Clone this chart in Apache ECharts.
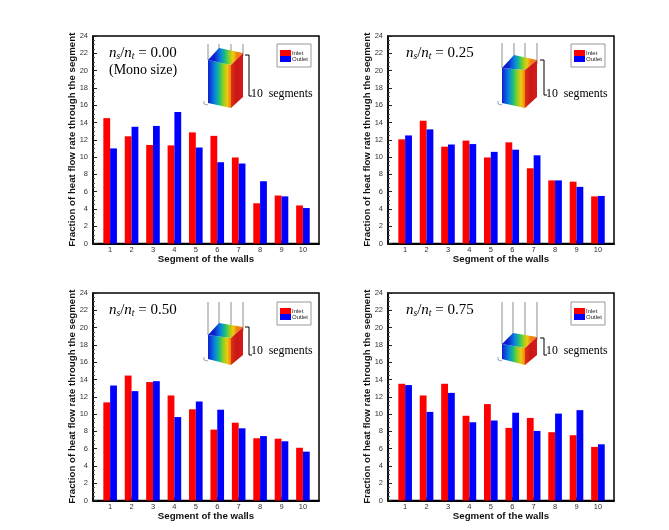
<!DOCTYPE html>
<html>
<head>
<meta charset="utf-8">
<style>html,body{margin:0;padding:0;background:#fff}#c{width:669px;height:530px}</style>
<script src="https://cdn.jsdelivr.net/npm/echarts@6/dist/echarts.min.js"></script>
</head>
<body>
<div id="c"></div>
<script>
const segments = [1,2,3,4,5,6,7,8,9,10];
const yTicks = [0,2,4,6,8,10,12,14,16,18,20,22,24];
const ratioLabels = ['0.00','0.25','0.50','0.75'];
const inlet000  = [14.5,12.4,11.4,11.35,12.85,12.45,9.95,4.65,5.55,4.4];
const outlet000 = [11.0,13.5,13.6,15.2,11.1,9.4,9.25,7.2,5.45,4.1];
const inlet025  = [12.05,14.2,11.2,11.9,9.95,11.7,8.7,7.3,7.15,5.45];
const outlet025 = [12.5,13.2,11.45,11.5,10.6,10.85,10.2,7.3,6.55,5.5];
const inlet050  = [11.35,14.45,13.7,12.15,10.55,8.2,9.0,7.2,7.15,6.1];
const outlet050 = [13.3,12.65,13.8,9.65,11.45,10.5,8.35,7.45,6.85,5.65];
const inlet075  = [13.5,12.15,13.5,9.8,11.15,8.4,9.55,7.9,7.55,6.2];
const outlet075 = [13.35,10.25,12.45,9.05,9.25,10.15,8.05,10.05,10.45,6.5];
const inlets = [inlet000,inlet025,inlet050,inlet075];
const outlets = [outlet000,outlet025,outlet050,outlet075];

const panels = [
  {l:93, t:36, lx:277, ly:44, lh:25, tx:109, ty:45,
   b:{lt:[208,60],bk:[219,48],rt:[243,53],ft:[231,65],lb:[208,103],fb:[231,108],rb:[243,97]}, lineTop:44, br:[245,249,55,96], sx:251, sy:94},
  {l:388,t:36, lx:571, ly:44, lh:25, tx:406, ty:45,
   b:{lt:[502,68],bk:[514,55],rt:[537,60],ft:[525,70],lb:[502,103],fb:[525,108],rb:[537,97]}, lineTop:43, br:[540,544,60,95], sx:546, sy:94},
  {l:93, t:293,lx:277, ly:302,lh:23, tx:109, ty:302,
   b:{lt:[208,335],bk:[219,323],rt:[243,327],ft:[231,338],lb:[208,359],fb:[231,365],rb:[243,355]}, lineTop:302, br:[245,249,327,355], sx:251, sy:351},
  {l:388,t:293,lx:571, ly:302,lh:23, tx:406, ty:302,
   b:{lt:[502,344],bk:[513,333],rt:[537,337],ft:[525,348],lb:[502,359],fb:[525,365],rb:[537,355]}, lineTop:302, br:[540,544,338,355], sx:546, sy:351}
];
const GW = 226, GH = 207.5;
const SANS = '"Liberation Sans",Arial,sans-serif';
const SERIF = '"Liberation Serif","Times New Roman",serif';

const rainbow = (x0,x1) => ({type:'linear',x:x0,y:0,x2:x1,y2:0,global:true,colorStops:[
  {offset:0,color:'#0a20d0'},{offset:.28,color:'#0a80e0'},{offset:.48,color:'#18c080'},
  {offset:.66,color:'#8fd020'},{offset:.84,color:'#f0c810'},{offset:1,color:'#f08010'}]});
const redFace = (x0,x1) => ({type:'linear',x:x0,y:0,x2:x1,y2:0,global:true,colorStops:[
  {offset:0,color:'#e03010'},{offset:.45,color:'#c81818'},{offset:1,color:'#d81818'}]});

function poly(points, fill){ return {type:'polygon',silent:true,shape:{points},style:{fill}}; }
function line(x1,y1,x2,y2,stroke,lineWidth){ return {type:'line',silent:true,shape:{x1,y1,x2,y2},style:{stroke,lineWidth}}; }

const grids=[],xAxes=[],yAxes=[],series=[],legends=[],titles=[],graphics=[];
panels.forEach((p,i)=>{
  grids.push({left:p.l,top:p.t,width:GW,height:GH,show:true,borderColor:'#000',borderWidth:1.5,backgroundColor:'#fff'});
  xAxes.push({type:'value',gridIndex:i,min:0.2,max:10.75,name:'Segment of the walls',nameLocation:'middle',nameGap:11,nameMoveOverlap:false,
    nameTextStyle:{fontFamily:SANS,fontWeight:'bold',fontSize:9.7,color:'#111'},
    splitLine:{show:false},
    axisLine:{show:true,onZero:false,lineStyle:{color:'#000',width:2}},
    axisTick:{show:true,inside:true,length:3,customValues:segments,lineStyle:{color:'#222',width:1}},
    axisLabel:{show:true,customValues:segments,fontFamily:SANS,fontSize:7.5,color:'#333',margin:2}});
  yAxes.push({type:'value',gridIndex:i,min:0,max:24,interval:2,name:'Fraction of heat flow rate through the segment',
    nameLocation:'middle',nameGap:16,nameMoveOverlap:false,
    nameTextStyle:{fontFamily:SANS,fontWeight:'bold',fontSize:9.7,color:'#111'},
    splitLine:{show:false},
    axisLine:{show:true,lineStyle:{color:'#000',width:1.5}},
    axisTick:{show:true,inside:true,length:4,lineStyle:{color:'#222',width:1}},
    minorTick:{show:true,splitNumber:4,length:2,lineStyle:{color:'#555',width:1}},
    axisLabel:{fontFamily:SANS,fontSize:7.5,color:'#333',margin:5,customValues:yTicks}});
  const pair = (name,color,vals)=>({type:'bar',name,xAxisIndex:i,yAxisIndex:i,barWidth:6.8,barGap:0,
    itemStyle:{color},data:segments.map((s,k)=>[s,vals[k]]),silent:true,animation:false});
  series.push(pair('Inlet','#ff0000',inlets[i]),pair('Outlet','#0000ff',outlets[i]));
  legends.push({left:p.lx,top:p.ly,width:35,height:p.lh,orient:'vertical',padding:[6,3,5,3],itemGap:0,itemWidth:11,itemHeight:6,
    borderColor:'#999',borderWidth:1,backgroundColor:'#fff',selectedMode:false,icon:'rect',
    data:['Inlet','Outlet'],textStyle:{fontFamily:SANS,fontSize:6,color:'#222',padding:[0,0,0,-4]}});
  const w='normal';
  const rich={i:{fontFamily:SERIF,fontStyle:'italic',fontWeight:w,fontSize:15,color:'#000'},
    s:{fontFamily:SERIF,fontStyle:'italic',fontWeight:w,fontSize:9.5,color:'#000',verticalAlign:'bottom',padding:[6,0,0,0]},
    r:{fontFamily:SERIF,fontWeight:w,fontSize:15,color:'#000'}};
  titles.push({left:p.tx,top:p.ty,padding:0,text:`{i|n}{s|s}{r|/}{i|n}{s|t}{r| = ${ratioLabels[i]}}`,textStyle:{fontWeight:w,rich}});
  if(i===0) titles.push({left:p.tx,top:p.ty+18,padding:0,text:'(Mono size)',textStyle:{fontFamily:SERIF,fontWeight:w,fontSize:14,color:'#000'}});

  const b=p.b;
  const xs=[b.lt[0],b.bk[0],b.ft[0],b.rt[0]];
  xs.forEach(x=>graphics.push(line(x,p.lineTop,x,b.lt[1]+(x===b.lt[0]?0:-4),'#b5b5b5',1.5)));
  graphics.push(line(b.lb[0]-4,b.lb[1]-2,b.lb[0]-4,b.lb[1]+1,'#9aa0c0',1),line(b.lb[0]-4,b.lb[1]+1,b.lb[0],b.lb[1]+2,'#9aa0c0',1));
  graphics.push(poly([b.lt,b.ft,b.fb,b.lb],rainbow(b.lt[0],b.ft[0])));
  graphics.push(poly([b.lt,b.bk,b.rt,b.ft],rainbow(b.lt[0]+6,b.rt[0]-6)));
  graphics.push(poly([b.ft,b.rt,b.rb,b.fb],redFace(b.ft[0],b.rt[0])));
  const [bx0,bx1,by0,by1]=p.br;
  graphics.push({type:'polyline',silent:true,shape:{points:[[bx0,by0],[bx1,by0],[bx1,by1],[bx1+3,by1]]},style:{stroke:'#000',lineWidth:1,fill:'none'}});
  graphics.push({type:'text',silent:true,x:p.sx,y:p.sy,style:{text:'10  segments',fontFamily:SERIF,fontSize:11.8,fill:'#000',verticalAlign:'middle'}});
});

const chart=echarts.init(document.getElementById('c'),null,{renderer:'canvas'});
chart.setOption({animation:false,backgroundColor:'#fff',grid:grids,xAxis:xAxes,yAxis:yAxes,series,legend:legends,title:titles,graphic:{elements:graphics}});
</script>
</body>
</html>
